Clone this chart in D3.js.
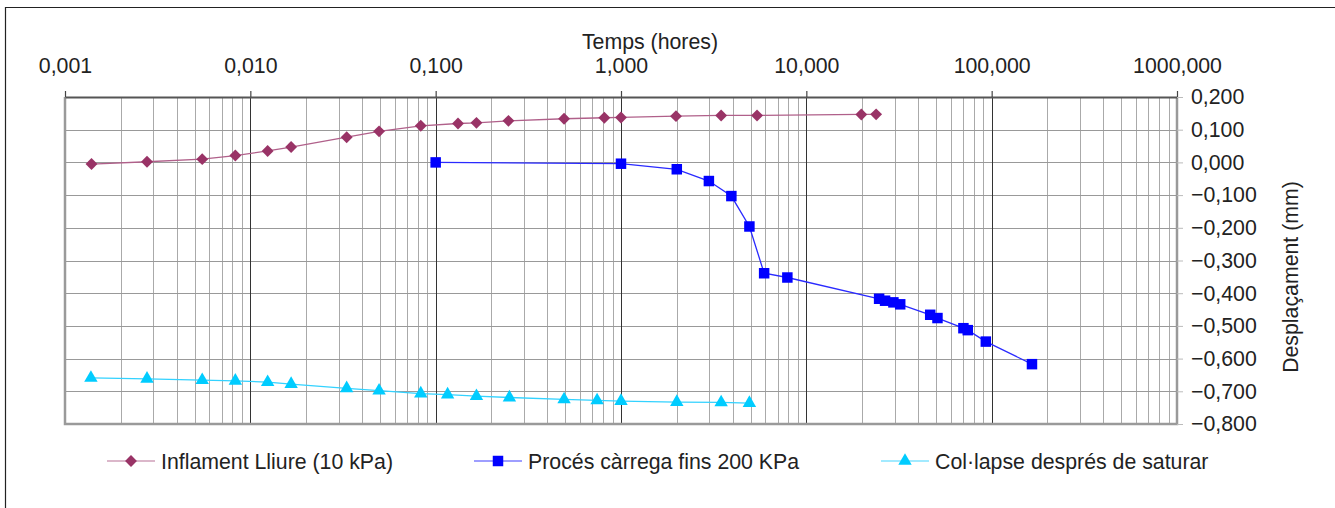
<!DOCTYPE html>
<html>
<head>
<meta charset="utf-8">
<script src="https://cdn.jsdelivr.net/npm/d3@7"></script>
<style>
  html, body { margin: 0; padding: 0; background: #fff; }
  svg { display: block; font-family: "Liberation Sans", Arial, sans-serif; }
</style>
</head>
<body>
<svg id="chart" width="1335" height="508"></svg>
<script>
// ---- data ----
const xTickValues = [0.001, 0.01, 0.1, 1, 10, 100, 1000];
const yTickValues = [0.2, 0.1, 0.0, -0.1, -0.2, -0.3, -0.4, -0.5, -0.6, -0.7, -0.8];

const inflamentT = [0.00139, 0.00277, 0.0055, 0.0083, 0.0124, 0.0166, 0.0331, 0.0495, 0.0831, 0.132, 0.166, 0.247, 0.493, 0.813, 1.0, 1.98, 3.47, 5.42, 19.8, 23.8];
const inflamentD = [-0.005, 0.002, 0.010, 0.021, 0.035, 0.047, 0.077, 0.095, 0.112, 0.119, 0.121, 0.127, 0.1335, 0.1366, 0.1375, 0.1415, 0.1436, 0.1436, 0.1466, 0.147];

const carregaT = [0.1, 1.0, 2.0, 2.98, 3.94, 4.93, 5.92, 7.9, 24.7, 26.6, 29.5, 32.1, 46.6, 51, 70.4, 74.3, 93, 165];
const carregaD = [0.0, -0.004, -0.021, -0.057, -0.103, -0.196, -0.339, -0.352, -0.417, -0.423, -0.428, -0.434, -0.466, -0.476, -0.507, -0.513, -0.548, -0.617];

const collapseT = [0.00138, 0.00277, 0.0055, 0.0083, 0.0124, 0.0166, 0.0331, 0.0495, 0.0831, 0.116, 0.166, 0.25, 0.493, 0.743, 1.0, 2.0, 3.47, 4.93];
const collapseD = [-0.659, -0.662, -0.666, -0.668, -0.672, -0.678, -0.691, -0.698, -0.707, -0.710, -0.715, -0.719, -0.725, -0.728, -0.730, -0.733, -0.734, -0.736];

const seriesNames = ["Inflament Lliure (10 kPa)", "Procés càrrega fins 200 KPa", "Col·lapse després de saturar"];
const xTitle = "Temps (hores)";
const yTitle = "Desplaçament (mm)";

// ---- setup ----
const svg = d3.select("#chart");
const L = 65, R = 1177, T = 97, B = 424;
const x = d3.scaleLog().domain([0.001, 1000]).range([L, R]);
const y = d3.scaleLinear().domain([-0.8, 0.2]).range([B, T]);
const fmt = v => d3.format(".3f")(v).replace(".", ",");
const FS = 21.3;

// outer border (only top and left visible)
svg.append("path").attr("d", `M5.5,508 V7.5 H1335`).attr("fill", "none").attr("stroke", "#222").attr("stroke-width", 1.2);

// gridlines
const g = svg.append("g");
const minor = [];
for (let d = 0.001; d < 999; d *= 10) for (let k = 2; k <= 9; k++) minor.push(d * k);
g.selectAll("line.minor").data(minor).join("line")
  .attr("x1", d => Math.round(x(d)) + 0.5).attr("x2", d => Math.round(x(d)) + 0.5)
  .attr("y1", T).attr("y2", B).attr("stroke", "#aaa").attr("stroke-width", 1);
g.selectAll("line.hgrid").data(yTickValues).join("line")
  .attr("x1", L).attr("x2", R).attr("y1", d => Math.round(y(d)) + 0.5).attr("y2", d => Math.round(y(d)) + 0.5)
  .attr("stroke", "#999").attr("stroke-width", 1);
g.selectAll("line.major").data(xTickValues).join("line")
  .attr("x1", d => Math.round(x(d)) + 0.5).attr("x2", d => Math.round(x(d)) + 0.5)
  .attr("y1", T).attr("y2", B).attr("stroke", "#333").attr("stroke-width", 1);

// plot frame
svg.append("path").attr("d", `M${L},${T} V${B} H${R} V${T}`).attr("fill", "none").attr("stroke", "#9a9a9a").attr("stroke-width", 2.5);

// top x axis
const xAxis = svg.append("g").attr("transform", `translate(0,${T})`)
  .call(d3.axisTop(x).tickValues(xTickValues).tickFormat(fmt).tickSize(6).tickPadding(18).tickSizeOuter(0));
xAxis.select(".domain").attr("stroke", "#555").attr("stroke-width", 2.2);
xAxis.selectAll(".tick line").attr("stroke", "#444").attr("stroke-width", 1.2);
xAxis.selectAll("text").attr("font-size", FS).attr("fill", "#222").attr("font-family", "Liberation Sans, Arial, sans-serif");

// right y axis
const yAxis = svg.append("g").attr("transform", `translate(${R},0)`)
  .call(d3.axisRight(y).tickValues(yTickValues).tickFormat(fmt).tickSize(6).tickPadding(8).tickSizeOuter(0));
yAxis.select(".domain").remove();
yAxis.selectAll(".tick line").attr("stroke", "#bbb").attr("stroke-width", 1);
yAxis.selectAll("text").attr("font-size", FS).attr("fill", "#222").attr("font-family", "Liberation Sans, Arial, sans-serif");

// axis titles
svg.append("text").attr("x", 650).attr("y", 49).attr("text-anchor", "middle")
  .attr("font-size", FS).attr("fill", "#222").text(xTitle);
svg.append("text").attr("transform", "translate(1298,277) rotate(-90)").attr("text-anchor", "middle")
  .attr("font-size", FS).attr("fill", "#222").text(yTitle);

// series
const series = [
  { name: seriesNames[0], t: inflamentT, d: inflamentD, color: "#993366", line: "#b0608a", shape: "diamond" },
  { name: seriesNames[1], t: carregaT, d: carregaD, color: "#0000ff", line: "#2a2aff", shape: "square" },
  { name: seriesNames[2], t: collapseT, d: collapseD, color: "#00ccff", line: "#33d2ff", shape: "triangle" }
];
const sym = {
  diamond: d3.symbol().type(d3.symbolDiamond2).size(90),
  square: d3.symbol().type(d3.symbolSquare).size(110),
  triangle: d3.symbol().type(d3.symbolTriangle).size(78)
};
const line = d3.line().x(p => x(p[0])).y(p => y(p[1]));
series.forEach(s => {
  const pts = s.t.map((t, i) => [t, s.d[i]]);
  svg.append("path").attr("d", line(pts)).attr("fill", "none").attr("stroke", s.line).attr("stroke-width", 1.3);
  svg.append("g").selectAll("path").data(pts).join("path")
    .attr("transform", p => `translate(${x(p[0])},${y(p[1])})`)
    .attr("d", sym[s.shape]()).attr("fill", s.color);
});

// legend
const legendX = [107, 474, 881];
const legendY = 461;
series.forEach((s, i) => {
  const lg = svg.append("g").attr("transform", `translate(${legendX[i]},${legendY})`);
  lg.append("line").attr("x1", 0).attr("x2", 48).attr("y1", 0).attr("y2", 0).attr("stroke", s.line).attr("stroke-width", 1.6).attr("opacity", 0.6);
  lg.append("path").attr("transform", "translate(24,0)").attr("d", sym[s.shape]()).attr("fill", s.color);
  lg.append("text").attr("x", 54).attr("y", 7.5).attr("font-size", FS).attr("fill", "#222").text(s.name);
});
</script>
</body>
</html>
